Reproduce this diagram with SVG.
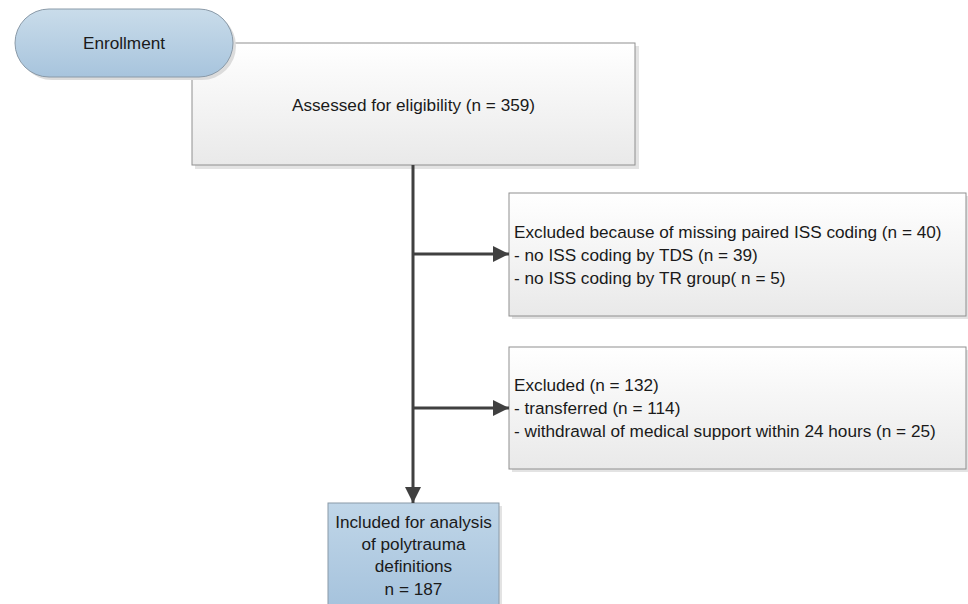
<svg xmlns="http://www.w3.org/2000/svg" width="968" height="604" viewBox="0 0 968 604">
<defs>
<linearGradient id="gray" x1="0" y1="0" x2="0" y2="1"><stop offset="0" stop-color="#ffffff"/><stop offset="1" stop-color="#e9e9e9"/></linearGradient>
<linearGradient id="blue" x1="0" y1="0" x2="0" y2="1"><stop offset="0" stop-color="#c9dcea"/><stop offset="1" stop-color="#a7c4dd"/></linearGradient>
<linearGradient id="blue2" x1="0" y1="0" x2="0" y2="1"><stop offset="0" stop-color="#c0d6e8"/><stop offset="1" stop-color="#a6c3dd"/></linearGradient>
<marker id="arr" viewBox="0 0 10 10" refX="10" refY="5" markerWidth="5.5" markerHeight="5.5" orient="auto" markerUnits="strokeWidth"><path d="M0,0 L10,5 L0,10 z" fill="#404040"/></marker>
</defs>
<style>
.box{fill:url(#gray);stroke:#8f8f8f;stroke-width:1}
.shadow{fill:#e3e3e3}
.t{font-family:"Liberation Sans",Arial,sans-serif;font-size:17.2px;fill:#1a1a1a}
.c{text-anchor:middle}
.conn{stroke:#404040;stroke-width:3;fill:none}
</style>
<rect width="968" height="604" fill="#ffffff"/>
<g id="assessed">
<rect class="shadow" x="195" y="46" width="444" height="123"/>
<rect class="box" x="192" y="43" width="443" height="122"/>
<text class="t c" x="413.5" y="111">Assessed for eligibility (n = 359)</text>
</g>
<g id="enrollment">
<rect x="18" y="12" width="218" height="68" rx="34" fill="#dcdcdc"/>
<rect x="15" y="9" width="218" height="68" rx="34" fill="url(#blue)" stroke="#8a9aa8" stroke-width="1"/>
<text class="t c" x="124" y="49">Enrollment</text>
</g>
<g id="excluded1">
<rect class="shadow" x="512" y="196" width="457" height="123"/>
<rect class="box" x="509" y="193" width="457" height="123"/>
<text class="t" x="514" y="238">Excluded because of missing paired ISS coding (n = 40)</text>
<text class="t" x="514" y="261">- no ISS coding by TDS (n = 39)</text>
<text class="t" x="514" y="284">- no ISS coding by TR group( n = 5)</text>
</g>
<g id="excluded2">
<rect class="shadow" x="512" y="350" width="457" height="122"/>
<rect class="box" x="509" y="347" width="457" height="122"/>
<text class="t" x="514" y="391">Excluded (n = 132)</text>
<text class="t" x="514" y="414">- transferred (n = 114)</text>
<text class="t" x="514" y="437">- withdrawal of medical support within 24 hours (n = 25)</text>
</g>
<g id="included">
<rect x="331" y="506" width="171" height="100" fill="#e3e3e3"/>
<rect x="328" y="503" width="171" height="103" fill="url(#blue2)" stroke="#8a9aa8" stroke-width="1"/>
<text class="t c" x="413.5" y="528">Included for analysis</text>
<text class="t c" x="413.5" y="550">of polytrauma</text>
<text class="t c" x="413.5" y="572">definitions</text>
<text class="t c" x="413.5" y="595">n = 187</text>
</g>
<g id="connectors">
<path class="conn" d="M413,165 V503" marker-end="url(#arr)"/>
<path class="conn" d="M413,254 H509" marker-end="url(#arr)"/>
<path class="conn" d="M413,408 H509" marker-end="url(#arr)"/>
</g>
</svg>
